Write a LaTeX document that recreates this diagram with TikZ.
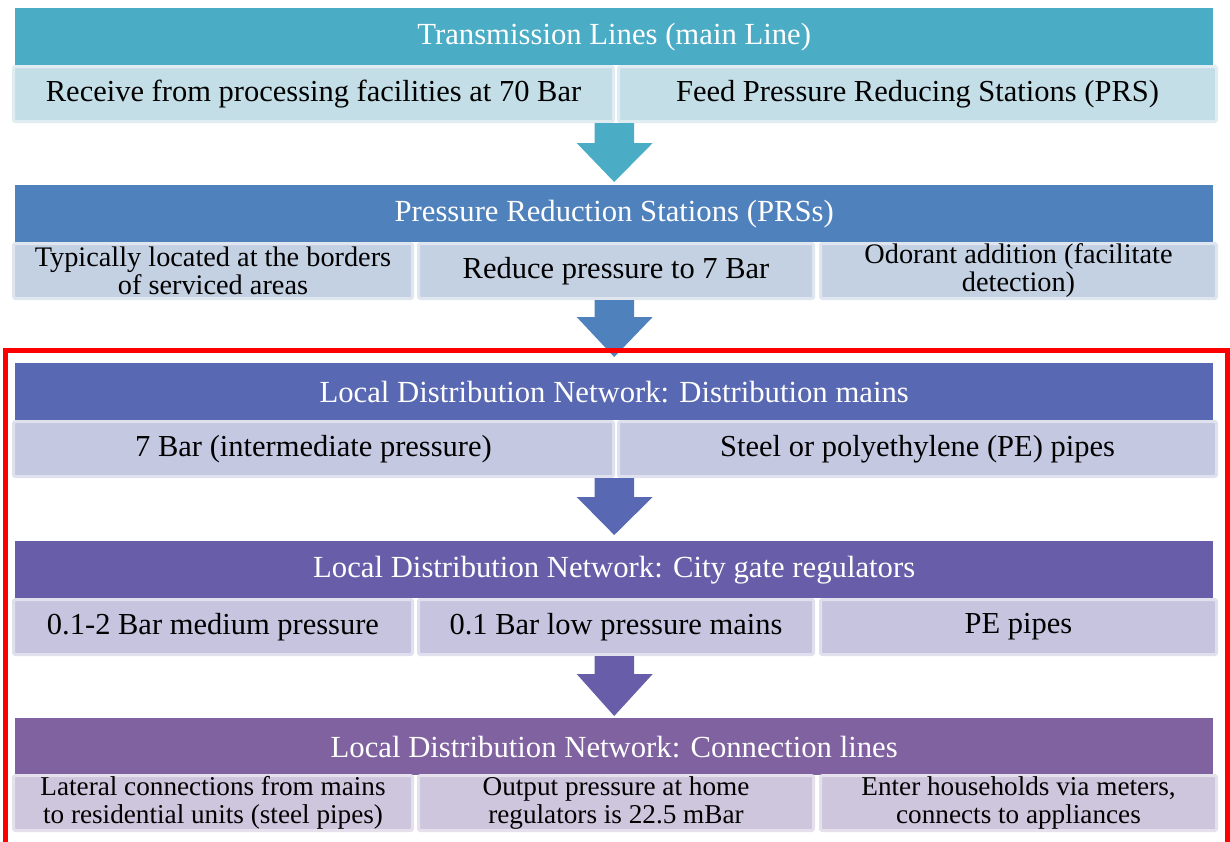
\documentclass[tikz,border=0pt]{standalone}
\usepackage{fontspec}
\setmainfont{Liberation Serif}
\usetikzlibrary{calc}

\definecolor{aqua}{RGB}{75,172,198}
\definecolor{steel}{RGB}{79,129,189}
\definecolor{indigo}{RGB}{88,104,178}
\definecolor{iris}{RGB}{104,93,168}
\definecolor{plum}{RGB}{128,98,160}
\definecolor{aqualt}{RGB}{196,222,231}
\definecolor{steellt}{RGB}{196,209,227}
\definecolor{indigolt}{RGB}{196,200,225}
\definecolor{irislt}{RGB}{199,196,224}
\definecolor{plumlt}{RGB}{206,198,221}

\begin{document}
\begin{tikzpicture}[x=1pt,y=-1pt,
		head/.style={fill=#1, text=white, anchor=north west, inner sep=0pt,
			minimum width=1198pt, minimum height=57pt, font=\fontsize{30.7}{31}\selectfont},
		cell/.style={fill=#1, draw=#1!55!white, line width=3pt, rounded corners=2pt,
			anchor=north west, inner sep=0pt, minimum height=55pt, align=center,
			font=\fontsize{30.5}{28}\selectfont},
		twoline/.style={font=\fontsize{#1}{28}\selectfont}]
		\useasboundingbox (0,0) rectangle (1230,841);
		\fill[white] (0,0) rectangle (1230,841);

		\node[head=aqua] (hd1) at (15,8) {Transmission Lines (main Line)};
		\node[head=steel] (hd2) at (15,185) {Pressure Reduction Stations (PRSs)};
		\node[head=indigo] (hd3) at (15,363) {Local Distribution Network: Distribution mains};
		\node[head=iris] (hd4) at (15,541) {Local Distribution Network: City gate regulators};
		\node[head=plum] (hd5) at (15,718) {Local Distribution Network: Connection lines};

		\node[cell=aqualt, minimum width=600pt] (r1a) at (12,65) {Receive from processing facilities at 70 Bar};
		\node[cell=aqualt, minimum width=598pt] (r1b) at (617,65) {Feed Pressure Reducing Stations (PRS)};

		\node[cell=steellt, twoline=28.3, minimum width=399pt] (r2a) at (12,242) {Typically located at the borders\\of serviced areas};
		\node[cell=steellt, minimum width=395pt] (r2b) at (417,242) {Reduce pressure to 7 Bar};
		\node[cell=steellt, twoline=28.3, minimum width=396pt] (r2c) at (819,242) {Odorant addition (facilitate\\detection)};

		\node[cell=indigolt, minimum width=600pt] (r3a) at (12,420) {7 Bar (intermediate pressure)};
		\node[cell=indigolt, minimum width=598pt] (r3b) at (617,420) {Steel or polyethylene (PE) pipes};

		\node[cell=irislt, minimum width=399pt] (r4a) at (12,598) {0.1-2 Bar medium pressure};
		\node[cell=irislt, minimum width=395pt] (r4b) at (417,598) {0.1 Bar low pressure mains};
		\node[cell=irislt, minimum width=396pt] (r4c) at (819,598) {PE pipes};

		\node[cell=plumlt, twoline=27.2, minimum width=399pt] (r5a) at (12,774) {Lateral connections from mains\\to residential units (steel pipes)};
		\node[cell=plumlt, twoline=27.2, minimum width=395pt] (r5b) at (417,774) {Output pressure at home\\regulators is 22.5 mBar};
		\node[cell=plumlt, twoline=27.2, minimum width=396pt] (r5c) at (819,774) {Enter households via meters,\\connects to appliances};

		% arrows from each row down to the next header
		\fill[aqua] let \p1=(hd1 |- r1a.south), \p2=(hd2.north) in
			(\x1-19.5pt,\y1) -- (\x1-19.5pt,\y1-20pt) -- (\x1-37.5pt,\y1-20pt) -- (\x1,\y2+3pt)
			-- (\x1+38.5pt,\y1-20pt) -- (\x1+20pt,\y1-20pt) -- (\x1+20pt,\y1) -- cycle;
		\fill[steel] let \p1=(hd2 |- r2a.south), \p2=(hd3.north) in
			(\x1-19.5pt,\y1) -- (\x1-19.5pt,\y1-17pt) -- (\x1-37.5pt,\y1-17pt) -- (\x1,\y2+6pt)
			-- (\x1+38.5pt,\y1-17pt) -- (\x1+20pt,\y1-17pt) -- (\x1+20pt,\y1) -- cycle;
		\fill[indigo] let \p1=(hd3 |- r3a.south), \p2=(hd4.north) in
			(\x1-19.5pt,\y1) -- (\x1-19.5pt,\y1-19pt) -- (\x1-37.5pt,\y1-19pt) -- (\x1,\y2+6pt)
			-- (\x1+38.5pt,\y1-19pt) -- (\x1+20pt,\y1-19pt) -- (\x1+20pt,\y1) -- cycle;
		\fill[iris] let \p1=(hd4 |- r4a.south), \p2=(hd5.north) in
			(\x1-19.5pt,\y1) -- (\x1-19.5pt,\y1-18pt) -- (\x1-37.5pt,\y1-18pt) -- (\x1,\y2+2pt)
			-- (\x1+38.5pt,\y1-18pt) -- (\x1+20pt,\y1-18pt) -- (\x1+20pt,\y1) -- cycle;

		% highlight frame round the local network part
		\draw[red, line width=5pt] (5.5,350) rectangle (1227.5,844);
\end{tikzpicture}
\end{document}
